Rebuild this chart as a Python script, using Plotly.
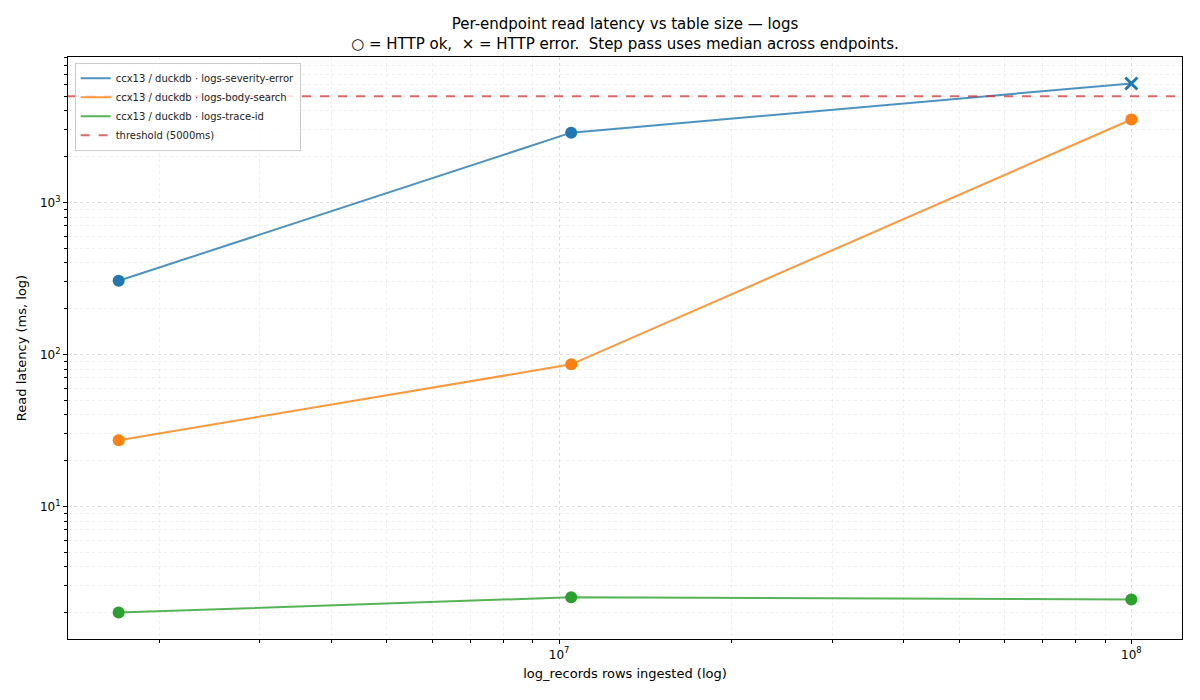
import numpy as np
import plotly.graph_objects as go

rows = [1.7e6, 1.05e7, 1.0e8]
series_names = ["ccx13 / duckdb · logs-severity-error",
                "ccx13 / duckdb · logs-body-search",
                "ccx13 / duckdb · logs-trace-id"]
severity_error = [305, 2880, 6070]
body_search = [27.2, 86, 3515]
trace_id = [2.0, 2.52, 2.44]
http_ok = [[True, True, False], [True, True, True], [True, True, True]]
threshold_ms = 5000
colors = ["#1f77b4", "#ff7f0e", "#2ca02c"]
line_colors = ["rgba(31,119,180,0.8)", "rgba(255,127,14,0.8)", "rgba(44,160,44,0.8)"]

x_ticks = [1e7, 1e8]
x_ticktext = ["10<sup>7</sup>", "10<sup>8</sup>"]
y_ticks = [10, 100, 1000]
y_ticktext = ["10<sup>1</sup>", "10<sup>2</sup>", "10<sup>3</sup>"]

all_y = severity_error + body_search + trace_id
lx = np.log10(rows)
ly = np.log10(all_y)
xr = [lx.min() - 0.05 * (lx.max() - lx.min()), lx.max() + 0.05 * (lx.max() - lx.min())]
yr = [ly.min() - 0.05 * (ly.max() - ly.min()), ly.max() + 0.05 * (ly.max() - ly.min())]

fig = go.Figure()
for name, vals, ok, c, lc in zip(series_names, [severity_error, body_search, trace_id], http_ok, colors, line_colors):
    fig.add_trace(go.Scatter(x=rows, y=vals, mode="lines", name=name,
                             line=dict(color=lc, width=2), showlegend=True))
    xo = [x for x, o in zip(rows, ok) if o]
    yo = [y for y, o in zip(vals, ok) if o]
    xe = [x for x, o in zip(rows, ok) if not o]
    ye = [y for y, o in zip(vals, ok) if not o]
    fig.add_trace(go.Scatter(x=xo, y=yo, mode="markers", showlegend=False,
                             marker=dict(color=c, size=12, symbol="circle")))
    if xe:
        fig.add_trace(go.Scatter(x=xe, y=ye, mode="markers", showlegend=False,
                                 marker=dict(color=c, size=12, symbol="x-thin",
                                             line=dict(color=c, width=3))))

fig.add_trace(go.Scatter(x=[10 ** xr[0], 10 ** xr[1]], y=[threshold_ms, threshold_ms],
                         mode="lines", name="threshold (5000ms)",
                         line=dict(color="rgba(214,39,40,0.7)", width=2, dash="dash")))

grid_major = "rgba(0,0,0,0.08)"
grid_minor = "rgba(0,0,0,0.06)"
axis_common = dict(type="log", showline=True, linecolor="black", linewidth=1.2, mirror=True,
                   ticks="outside", ticklen=4, tickcolor="black",
                   showgrid=True, gridcolor=grid_major, griddash="dot", gridwidth=1,
                   zeroline=False, tickfont=dict(family="DejaVu Sans", size=12, color="black"),
                   minor=dict(dtick="D1", ticks="outside", ticklen=2.5, tickcolor="black",
                              showgrid=True, gridcolor=grid_minor, griddash="dot", gridwidth=1))

fig.update_xaxes(**axis_common, range=xr, tickvals=x_ticks, ticktext=x_ticktext,
                 title=dict(text="log_records rows ingested (log)",
                            font=dict(family="DejaVu Sans", size=13, color="black"), standoff=8))
fig.update_yaxes(**axis_common, range=yr, tickvals=y_ticks, ticktext=y_ticktext,
                 title=dict(text="Read latency (ms, log)",
                            font=dict(family="DejaVu Sans", size=13, color="black"), standoff=10))

fig.update_layout(
    width=1200, height=700,
    margin=dict(l=68, r=18, t=57, b=61),
    plot_bgcolor="white", paper_bgcolor="white",
    title=dict(text="Per-endpoint read latency vs table size — logs<br>○ = HTTP ok,  × = HTTP error.  Step pass uses median across endpoints.",
               x=(68 + 1182) / 2 / 1200, xanchor="center",
               yref="container", y=1 - 29 / 700, yanchor="middle",
               font=dict(family="DejaVu Sans", size=15, color="black")),
    legend=dict(x=0.006, y=0.99, xanchor="left", yanchor="top",
                bgcolor="rgba(255,255,255,0.8)", bordercolor="#cccccc", borderwidth=1,
                font=dict(family="DejaVu Sans", size=10, color="#222"),
                tracegroupgap=0, itemwidth=30),
    font=dict(family="DejaVu Sans"),
)

fig.write_html("out.html")
